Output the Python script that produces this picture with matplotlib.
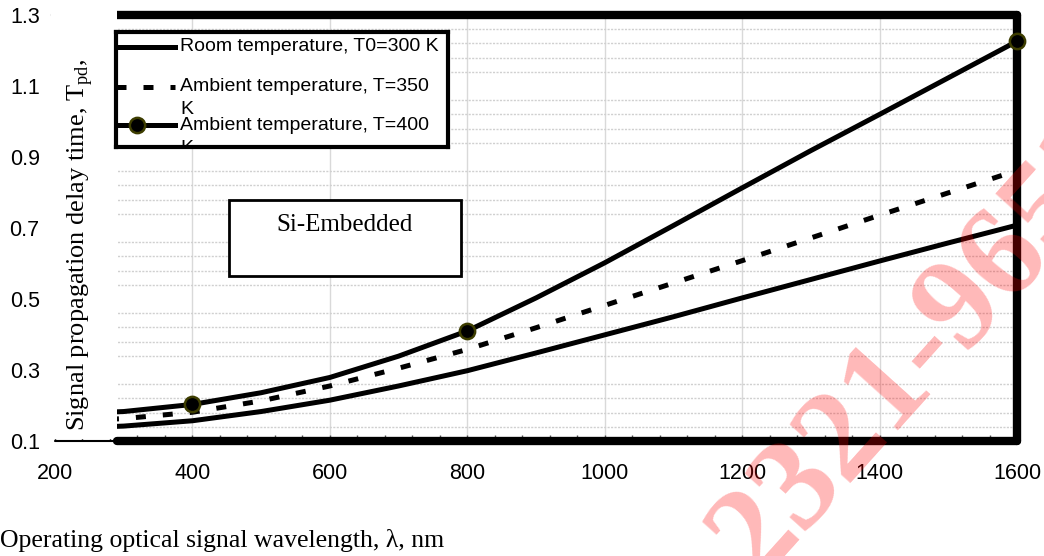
import numpy as np
import matplotlib
matplotlib.use('Agg')
import matplotlib.pyplot as plt
from matplotlib.patches import Rectangle

# data
wavelength = [200, 300, 400, 500, 600, 700, 800, 900, 1000, 1100, 1200, 1300, 1400, 1500, 1600]
t300 = [0.135, 0.142, 0.157, 0.183, 0.215, 0.255, 0.298, 0.348, 0.399, 0.450, 0.503, 0.555, 0.607, 0.658, 0.708]
t350 = [0.155, 0.163, 0.181, 0.213, 0.255, 0.305, 0.358, 0.419, 0.482, 0.545, 0.608, 0.672, 0.736, 0.799, 0.862]
t400 = [0.175, 0.183, 0.203, 0.236, 0.279, 0.339, 0.410, 0.503, 0.602, 0.707, 0.813, 0.918, 1.020, 1.123, 1.226]
marker_x = [400, 800, 1600]
labels = ['Room temperature, T0=300 K',
          'Ambient temperature, T=350\nK',
          'Ambient temperature, T=400\nK']
x_ticks = [200, 400, 600, 800, 1000, 1200, 1400, 1600]
y_ticks = [0.1, 0.3, 0.5, 0.7, 0.9, 1.1, 1.3]

plt.rcParams['mathtext.fontset'] = 'custom'
plt.rcParams['mathtext.rm'] = 'Liberation Serif'
sans = 'Liberation Sans'
serif = 'Liberation Serif'

W, H = 1044, 556
fig = plt.figure(figsize=(W / 100, H / 100), dpi=100)
ax = fig.add_axes([55 / W, 1 - 441 / H, (1017 - 55) / W, (441 - 15) / H])
ax.set_xlim(200, 1600)
ax.set_ylim(0.1, 1.3)

lw = 3.6
dash = (0, (2, 3.4))
ax.plot(wavelength, t300, color='black', lw=lw, zorder=3)
ax.plot(wavelength, t350, color='black', lw=lw, ls=dash, zorder=3)
ax.plot(wavelength, t400, color='black', lw=lw, zorder=3)
# markers of the T=400 series, not clipped so the last one sits on the frame
mk_y = [t400[wavelength.index(v)] for v in marker_x]
ax.plot(marker_x, mk_y, ls='none', marker='o', markersize=11,
        markerfacecolor='black', markeredgecolor='#3d3d00',
        markeredgewidth=1.8, zorder=6, clip_on=False)

# ticks and grid
ax.set_xticks(x_ticks)
ax.set_yticks(y_ticks)
ax.set_yticklabels([f'{v:.1f}' for v in y_ticks])
ax.set_xticks(np.arange(200, 1601, 40), minor=True)
ax.set_yticks(np.arange(0.1, 1.3001, 0.04), minor=True)
ax.tick_params(axis='x', which='both', direction='in', length=4, width=1,
               color='#555555', labelsize=15.5, pad=16)
ax.tick_params(axis='y', which='both', length=0, labelsize=15.5, pad=11)
for t in ax.get_xticklabels() + ax.get_yticklabels():
    t.set_fontfamily(sans)
ax.grid(axis='x', which='major', color='#d9d9d9', lw=1)
ax.grid(axis='y', which='minor', color='#d0d0d0', lw=1, ls=(0, (1.5, 1)))
ax.set_axisbelow(True)

# frame
ax.spines['left'].set_visible(False)
ax.spines['top'].set_linewidth(6)
ax.spines['right'].set_linewidth(6)
ax.spines['bottom'].set_linewidth(1.5)
for s in ax.spines.values():
    s.set_capstyle('round')
cover_edge = 290
ax.axhline(0.1, xmin=(cover_edge - 200) / 1400, xmax=1, color='black', lw=6,
           zorder=5, clip_on=False, solid_capstyle='round')

# white box behind the y title
ax.add_patch(Rectangle((194, 0.107), cover_edge - 194, 1.25, facecolor='white',
                       edgecolor='none', zorder=4, clip_on=False))

fig.text(80 / W, 1 - 431 / H, r'Signal propagation delay time, T$_{\mathrm{pd}}$,',
         rotation=90, ha='center', va='bottom', fontsize=19, family=serif)
fig.text(0, 1 - 541 / H, 'Operating optical signal wavelength, λ, nm',
         ha='left', va='center', fontsize=18.5, family=serif)

# legend drawn by hand (box clips the wrapped text)
lax = fig.add_axes([116 / W, 1 - 147 / H, 332 / W, 115 / H])
lax.set_xlim(0, 1)
lax.set_ylim(0, 1)
lax.set_xticks([])
lax.set_yticks([])
for s in lax.spines.values():
    s.set_linewidth(3)
rows = [0.87, 0.52, 0.19]
tops = [None, 0.597, 0.258]
lax.plot([0, 0.178], [rows[0]] * 2, color='black', lw=lw, clip_on=False)
lax.plot([0, 0.178], [rows[1]] * 2, color='black', lw=lw, ls=dash, clip_on=False)
lax.plot([0, 0.178], [rows[2]] * 2, color='black', lw=lw, clip_on=False)
lax.plot([0.063], [rows[2]], marker='o', markersize=11, color='black',
         markeredgecolor='#3d3d00', markeredgewidth=1.8, clip_on=False)
lax.text(0.193, rows[0], labels[0], va='center', ha='left', fontsize=14,
         family=sans, clip_on=True)
for tp, lab in zip(tops[1:], labels[1:]):
    lax.text(0.193, tp, lab, va='top', ha='left', fontsize=14,
             family=sans, linespacing=1.43, clip_on=True)

# Si-Embedded box
fig.patches.append(Rectangle((229 / W, 1 - 276 / H), 232 / W, 76 / H,
                             transform=fig.transFigure, facecolor='white',
                             edgecolor='black', lw=2, zorder=5))
fig.text(345 / W, 1 - 225 / H, 'Si-Embedded', ha='center', va='center',
         fontsize=18, family=serif, zorder=6)

# watermark
fig.text(758 / W, 1 - 580 / H, '2321-9653', rotation=48, rotation_mode='anchor',
         ha='left', va='baseline', fontsize=95, fontweight='bold', family=serif,
         color='red', alpha=0.28, zorder=10)

fig.savefig('out.png', dpi=100)
